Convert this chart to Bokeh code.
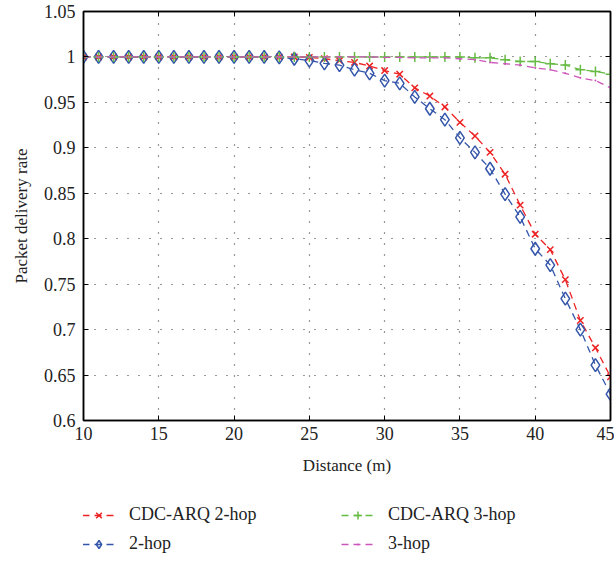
from bokeh.plotting import figure
from bokeh.layouts import column
from bokeh.models import (FixedTicker, CustomJSTickFormatter, LinearAxis, Legend,
                          LegendItem, Range1d)
from bokeh.embed import file_html
from bokeh.resources import INLINE

distance = list(range(10, 46))

cdc_2hop = [1.0] * 15 + [0.9995, 0.998, 0.996, 0.994, 0.990, 0.985, 0.981, 0.966, 0.957,
                         0.945, 0.928, 0.913, 0.895, 0.871, 0.837, 0.805, 0.788, 0.755,
                         0.710, 0.680, 0.648]
hop2 = [1.0] * 13 + [0.9995, 0.998, 0.996, 0.993, 0.991, 0.986, 0.982, 0.974, 0.971, 0.956,
                     0.943, 0.931, 0.911, 0.895, 0.877, 0.849, 0.824, 0.789, 0.771, 0.734,
                     0.700, 0.661, 0.629]
cdc_3hop = [1.0] * 26 + [0.999, 0.999, 0.997, 0.995, 0.995, 0.9925, 0.991, 0.986, 0.984, 0.981]
hop3 = [1.0] * 20 + [0.9995, 0.9995, 0.999, 0.999, 0.999, 0.998, 0.997, 0.994, 0.9925,
                     0.991, 0.988, 0.986, 0.982, 0.977, 0.974, 0.966]

series_labels = ["CDC-ARQ 2-hop", "2-hop", "CDC-ARQ 3-hop", "3-hop"]

x_ticks = [10, 15, 20, 25, 30, 35, 40, 45]
y_ticks = [0.6, 0.65, 0.7, 0.75, 0.8, 0.85, 0.9, 0.95, 1.0, 1.05]

FONT = "Liberation Serif"
RED = "#ee2222"
BLUE = "#3355aa"
GREEN = "#66bb44"
MAG = "#cc55bb"
DASH = "7 5"

p = figure(frame_width=527, frame_height=409, output_backend="svg", toolbar_location=None,
           x_range=Range1d(10, 45), y_range=Range1d(0.6, 1.05),
           min_border_left=83, min_border_right=4, min_border_top=11, min_border_bottom=56,
           background_fill_color="white", border_fill_color="white")
p.outline_line_color = "black"
p.outline_line_width = 1.5

fmt = CustomJSTickFormatter(code="return String(Math.round(tick*100)/100);")

for ax in [p.xaxis[0], p.yaxis[0]]:
    ax.major_tick_in = 5
    ax.major_tick_out = 0
    ax.minor_tick_line_color = None
    ax.axis_line_width = 1.5
    ax.major_label_text_font = FONT
    ax.major_label_text_font_size = "18px"
    ax.major_label_text_color = "#222222"
    ax.axis_label_text_font = FONT
    ax.axis_label_text_font_size = "17px"
    ax.axis_label_text_font_style = "normal"
    ax.axis_label_text_color = "#222222"
    ax.formatter = fmt

p.xaxis.ticker = FixedTicker(ticks=x_ticks)
p.yaxis.ticker = FixedTicker(ticks=y_ticks)
p.xaxis.axis_label = "Distance (m)"
p.yaxis.axis_label = "Packet delivery rate"
p.xaxis.major_label_standoff = 6
p.yaxis.major_label_standoff = 8
p.xaxis.axis_label_standoff = 13
p.yaxis.axis_label_standoff = 10

blank = CustomJSTickFormatter(code="return '';")
for loc, tk in [("right", y_ticks), ("above", x_ticks)]:
    a = LinearAxis(ticker=FixedTicker(ticks=tk), major_tick_in=5, major_tick_out=0,
                   minor_tick_line_color=None, formatter=blank,
                   major_label_standoff=0, axis_line_width=1.5)
    p.add_layout(a, loc)

p.xgrid.ticker = FixedTicker(ticks=x_ticks)
p.ygrid.ticker = FixedTicker(ticks=y_ticks)
p.grid.grid_line_color = "#333333"
p.grid.grid_line_dash = "1 10"
p.grid.grid_line_width = 1.2


def draw(fig):
    r = []
    r.append((fig.line(distance, cdc_2hop, line_color=RED, line_dash=DASH, line_width=1.3),
              fig.scatter(distance, cdc_2hop, marker="x", size=9, line_color=RED, line_width=1.5)))
    r.append((fig.line(distance, hop2, line_color=BLUE, line_dash=DASH, line_width=1.3),
              fig.scatter(distance, hop2, marker="diamond", size=13, line_color=BLUE,
                          fill_color="white", fill_alpha=0.0, line_width=1.5)))
    r.append((fig.line(distance, cdc_3hop, line_color=GREEN, line_dash=DASH, line_width=1.3),
              fig.scatter(distance, cdc_3hop, marker="cross", size=10, line_color=GREEN,
                          line_width=1.5)))
    r.append((fig.line(distance, hop3, line_color=MAG, line_dash=DASH, line_width=1.3),
              fig.scatter(distance, hop3, marker="dot", size=8, line_color=MAG,
                          fill_color=MAG)))
    return r


draw(p)

# legend strip below the plot (its data range lies outside the series, so only
# the legend glyphs show)
pl = figure(width=614, height=83, output_backend="svg", toolbar_location=None,
            x_range=Range1d(0, 1), y_range=Range1d(0, 0.5),
            min_border=0, min_border_left=0, min_border_right=0,
            min_border_top=0, min_border_bottom=0)
pl.axis.visible = False
pl.grid.visible = False
pl.outline_line_color = None
rs = draw(pl)

legend = Legend(items=[LegendItem(label=lab, renderers=list(rr))
                       for lab, rr in zip(series_labels, rs)],
                location=(-1, 6), orientation="vertical", ncols=2,
                label_text_font=FONT, label_text_font_size="18px",
                label_text_color="#222222", glyph_width=33, glyph_height=20,
                label_width=204, label_standoff=14, spacing=8, padding=0, margin=0,
                border_line_color=None, background_fill_alpha=0.0)
pl.add_layout(legend, "center")

layout = column(p, pl, spacing=0)
open("out.html", "w").write(file_html(layout, INLINE))
